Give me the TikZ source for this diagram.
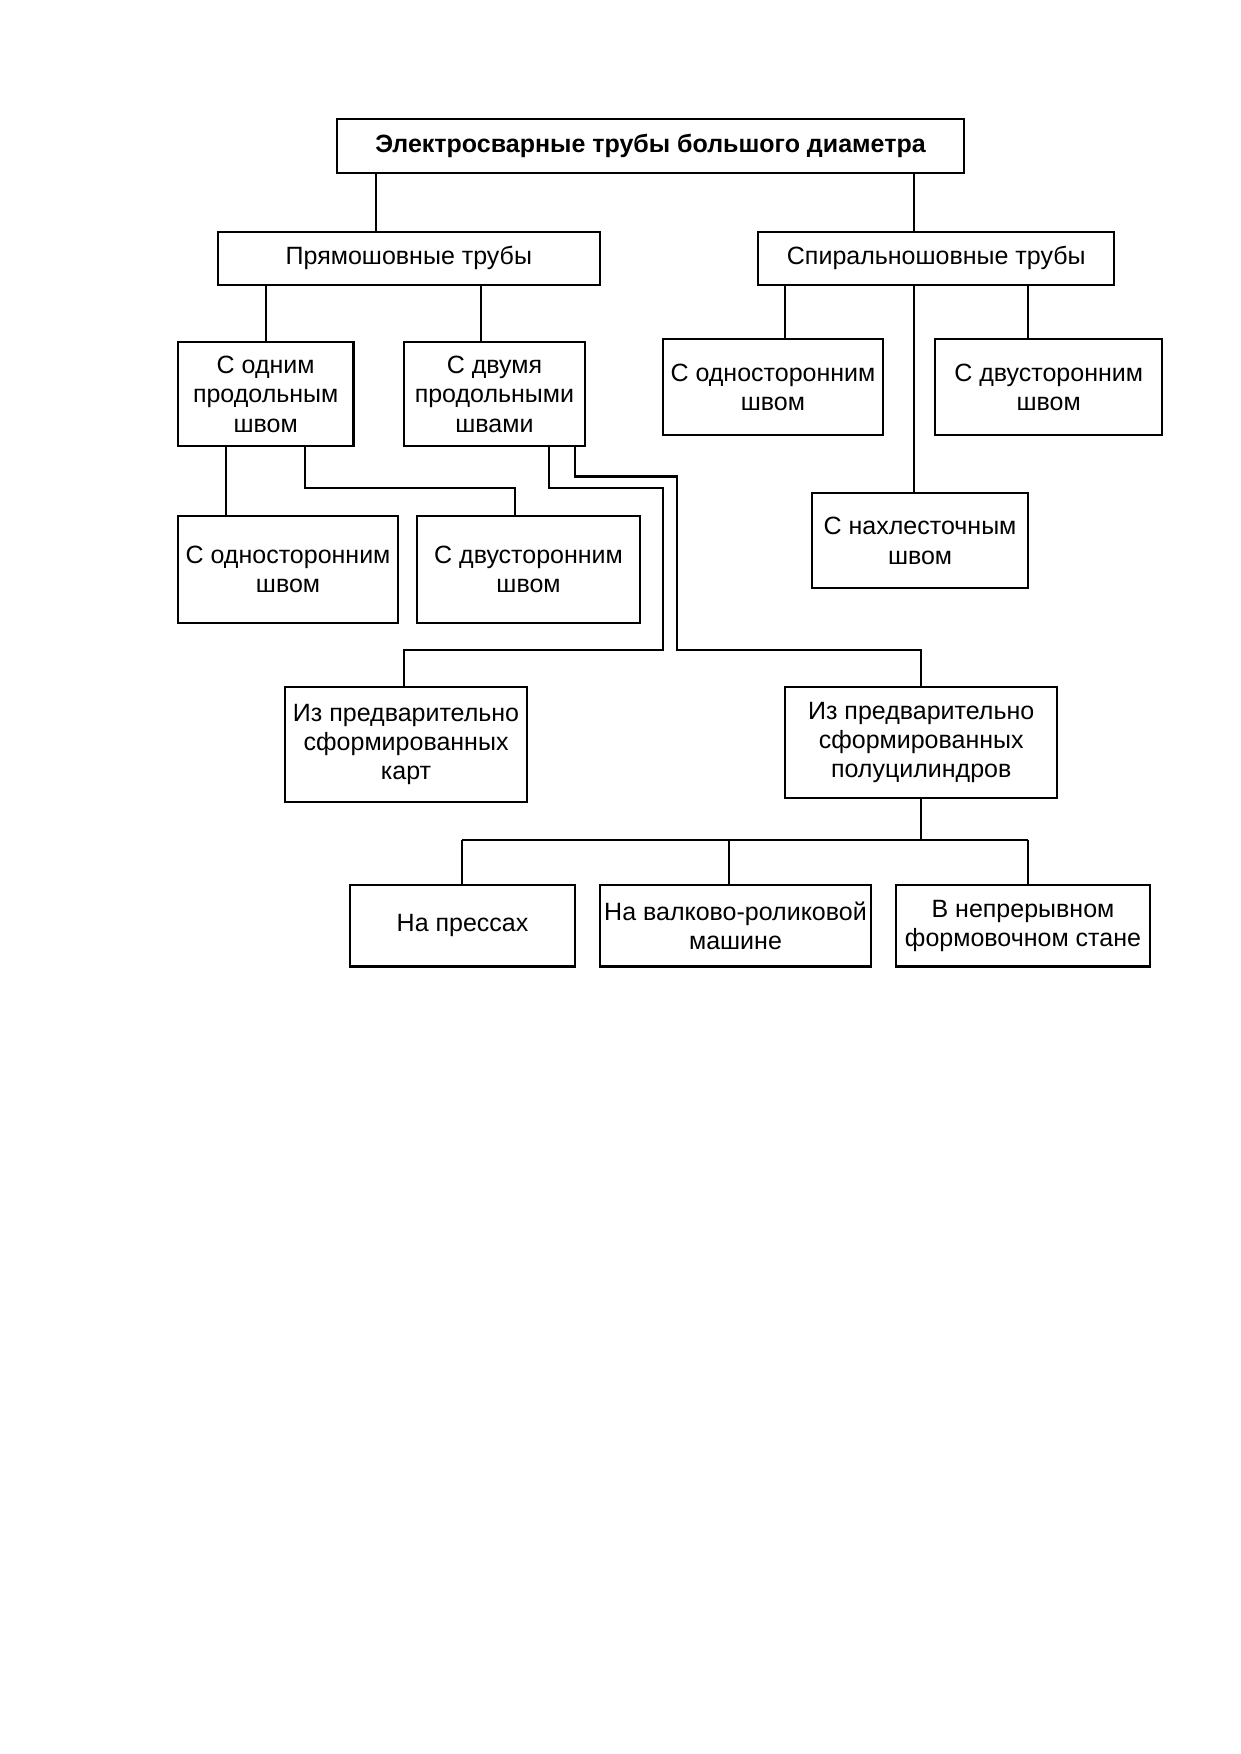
\documentclass[tikz,border=0pt]{standalone}
\usepackage{fontspec}
\setmainfont{Liberation Sans}
\begin{document}
\begin{tikzpicture}[x=0.5368pt,y=-0.5368pt,
  box/.style={draw,line width=1pt,inner sep=0pt,align=center,font=\fontsize{12}{14}\selectfont},
  sz/.style 2 args={minimum width=#1*0.5368pt,minimum height=#2*0.5368pt},
  conn/.style={line width=1pt}]
\fill[white] (0,0) rectangle (1109,1568);
\useasboundingbox (0,0) rectangle (1109,1568);
% level 0
\node[box,sz={561}{49},font=\bfseries\fontsize{12}{14}\selectfont] (root) at (581.5,130.5) {Электросварные трубы большого диаметра};
% level 1
\node[box,sz={341}{48}] (pr) at (365.5,231) {Прямошовные трубы};
\node[box,sz={318}{48}] (sp) at (837,231) {Спиральношовные трубы};
% level 2
\node[box,sz={157}{93}] (one) at (237.5,352.5) {С одним\\продольным\\швом};
\node[box,sz={162}{93}] (two) at (442,352.5) {С двумя\\продольными\\швами};
\node[box,sz={196}{86}] (spone) at (691,346) {С односторонним\\швом};
\node[box,sz={203}{86}] (sptwo) at (937.5,346) {С двусторонним\\швом};
\node[box,sz={193}{85}] (lap) at (822.5,483.5) {С нахлесточным\\швом};
% level 3
\node[box,sz={197}{96}] (oneside) at (257.5,509) {С односторонним\\швом};
\node[box,sz={199}{96}] (twoside) at (472.5,509) {С двусторонним\\швом};
\node[box,sz={216}{103}] (kart) at (363,665.5) {Из предварительно\\сформированных\\карт};
\node[box,sz={243}{99}] (half) at (823.5,663.5) {Из предварительно\\сформированных\\полуцилиндров};
% level 4
\node[box,sz={201}{73}] (press) at (413.5,827.5) {На прессах};
\node[box,sz={243}{73}] (roll) at (657.5,827.5) {На валково-роликовой\\машине};
\node[box,sz={227}{73}] (mill) at (914.5,827.5) {В непрерывном\\формовочном стане};
% connectors
\draw[conn] (root.south -| 336,0) -- (pr.north -| 336,0);
\draw[conn] (root.south -| 817,0) -- (sp.north -| 817,0);
\draw[conn] (pr.south -| 238,0) -- (one.north -| 238,0);
\draw[conn] (pr.south -| 430,0) -- (two.north -| 430,0);
\draw[conn] (sp.south -| 702,0) -- (spone.north -| 702,0);
\draw[conn] (sp.south -| 919,0) -- (sptwo.north -| 919,0);
\draw[conn] (sp.south -| 817,0) -- (lap.north -| 817,0);
\draw[conn] (one.south -| 202,0) -- (oneside.north -| 202,0);
\draw[conn] (one.south -| 273,0) -- (273,436) -- (460,436) -- (twoside.north -| 460,0);
\draw[conn] (two.south -| 491,0) -- (491,436) -- (593,436) -- (593,581) -- (361,581) -- (kart.north -| 361,0);
\draw[conn] (two.south -| 514,0) -- (514,426) -- (605,426) -- (605,581) -- (823,581) -- (half.north -| 823,0);
\draw[conn] (half.south -| 823,0) -- (823,751);
\draw[conn] (413,751) -- (919,751);
\draw[conn] (413,751) -- (press.north -| 413,0);
\draw[conn] (652,751) -- (roll.north -| 652,0);
\draw[conn] (919,751) -- (mill.north -| 919,0);
\end{tikzpicture}
\end{document}
